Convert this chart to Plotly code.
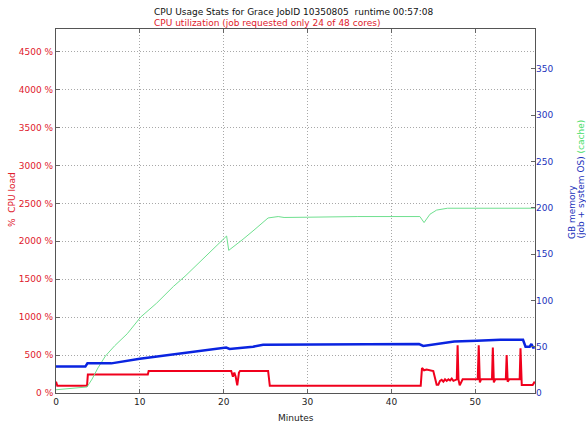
import plotly.graph_objects as go

# CPU load (% of one core) over time (minutes)
cpu_t = [0, 0.15, 3.7, 3.8, 10.95, 11.05, 20.9, 21.1, 21.27, 21.43, 21.62, 21.82, 21.95, 25.3, 25.5,
         43.5, 43.65, 43.9, 44.2, 44.5, 44.8, 45.0, 45.4, 45.6, 45.8, 46.0, 46.2, 46.4, 46.6, 46.8,
         47.0, 47.2, 47.4, 47.65, 47.8, 47.9, 48.0, 48.15, 48.5, 50.3, 50.42, 50.55, 50.7, 52.0,
         52.1, 52.22, 52.4, 53.65, 53.75, 53.87, 54.05, 55.3, 55.4, 55.55, 56.85, 57.1]
cpu_v = [150, 95, 95, 245, 245, 290, 290, 215, 270, 215, 100, 270, 290, 290, 95,
         95, 330, 300, 310, 300, 295, 290, 110, 110, 160, 175, 150, 180, 160, 180,
         165, 190, 160, 170, 180, 630, 180, 100, 180, 180, 630, 140, 180, 180,
         600, 140, 180, 180, 500, 150, 180, 180, 590, 105, 105, 150]

# memory used by job + system OS (GB)
mem_t = [0, 3.5, 3.75, 6.6, 10, 14, 17.2, 20.3, 20.7, 23.5, 24.7, 36, 36.3, 43.3, 43.8, 45,
         46.5, 47.5, 50.2, 53, 55.7, 56.0, 56.5, 56.7, 56.9, 57.1]
mem_v = [28.5, 28.5, 32, 32, 37, 41.5, 45, 49, 47.5, 50, 52, 52, 52.8, 52.8, 50.8, 52.5,
         54.5, 55.5, 56.5, 57.5, 57.5, 50, 50, 53, 49, 49]

# cache memory (GB)
cache_t = [0, 3.7, 4.3, 5.0, 5.9, 7, 8.5, 10.1, 12, 14, 15.5, 17.2, 19, 20.35, 20.6, 21.5,
           22.3, 23.5, 24.5, 25.3, 26.5, 27.2, 30, 36, 43.4, 43.9, 44.6, 45.4, 46.7, 57.1]
cache_v = [3.5, 6.5, 15, 27, 40, 51, 64, 82, 97, 115, 127, 142, 157, 169.5, 154, 160,
           166, 175, 183, 189, 190.5, 189.5, 189.8, 190.5, 190.5, 184, 193, 197.5, 199.5, 199.5]

x_ticks = [0, 10, 20, 30, 40, 50]
y_ticks = [0, 500, 1000, 1500, 2000, 2500, 3000, 3500, 4000, 4500]
y_ticklabels = [f"{v} %" for v in y_ticks]
y2_ticks = [0, 50, 100, 150, 200, 250, 300, 350]

FONT = "DejaVu Sans"
RED = "#f0001c"
BLUE = "#0a24e0"
GREEN = "#6fe08f"
RED_TXT = "#e0202c"
BLUE_TXT = "#2233bb"
GRID = "#a8a8a8"
GRIDDASH = "1px,2px"

fig = go.Figure()
fig.add_trace(go.Scatter(x=cache_t, y=cache_v, yaxis="y2", mode="lines",
                         line=dict(color=GREEN, width=1), name="cache"))
fig.add_trace(go.Scatter(x=mem_t, y=mem_v, yaxis="y2", mode="lines",
                         line=dict(color=BLUE, width=2.5), name="memory"))
fig.add_trace(go.Scatter(x=cpu_t, y=cpu_v, mode="lines",
                         line=dict(color=RED, width=2), name="cpu"))

fig.update_layout(
    width=586, height=424,
    margin=dict(l=56, r=51, t=29, b=31),
    paper_bgcolor="white", plot_bgcolor="white",
    showlegend=False,
    font=dict(family=FONT, size=9, color="#222"),
    xaxis=dict(range=[0, 57.13], tickvals=x_ticks, ticks="inside", ticklen=4,
               tickcolor="#666", showline=True, linecolor="#555", linewidth=1,
               mirror="ticks", showgrid=True, gridcolor=GRID, griddash=GRIDDASH,
               gridwidth=1, zeroline=False, tickfont=dict(size=9, color="#222")),
    yaxis=dict(range=[0, 4800], tickvals=y_ticks, ticktext=y_ticklabels, ticks="inside",
               ticklen=4, tickcolor="#666", showline=True, linecolor="#555", linewidth=1,
               mirror=True, showgrid=True, gridcolor=GRID, griddash=GRIDDASH, gridwidth=1,
               zeroline=False, tickfont=dict(size=9, color=RED_TXT)),
    yaxis2=dict(range=[0, 393], tickvals=y2_ticks, overlaying="y", side="right",
                ticks="inside", ticklen=4, tickcolor="#666", showline=False,
                showgrid=False, zeroline=False, tickfont=dict(size=9, color=BLUE_TXT)),
)

ann = [
    dict(text="CPU Usage Stats for Grace JobID 10350805  runtime 00:57:08", x=(152-56)/479,
         y=(393-12.5)/364, xanchor="left", yanchor="middle", font=dict(size=9, color="#111")),
    dict(text="CPU utilization (job requested only 24 of 48 cores)", x=(152-56)/479,
         y=(393-22.5)/364, xanchor="left", yanchor="middle", font=dict(size=9, color=RED_TXT)),
    dict(text="Minutes", x=0.5, y=(393-418)/364, xanchor="center", yanchor="middle",
         font=dict(size=9, color="#222")),
    dict(text="%  CPU load", x=(12-56)/479, y=(393-200)/364, textangle=-90,
         xanchor="center", yanchor="middle", font=dict(size=9, color=RED_TXT)),
    dict(text="GB memory", x=(572-56)/479, y=(393-212)/364, textangle=-90,
         xanchor="center", yanchor="middle", font=dict(size=9, color=BLUE_TXT)),
    dict(text="(job + system OS)", x=(580.5-56)/479, y=(393-198)/364, textangle=-90,
         xanchor="center", yanchor="middle", font=dict(size=9, color=BLUE_TXT)),
    dict(text="(cache)", x=(580.5-56)/479, y=(393-137)/364, textangle=-90,
         xanchor="center", yanchor="middle", font=dict(size=9, color="#44dd66")),
]
for a in ann:
    a.update(xref="paper", yref="paper", showarrow=False)
fig.update_layout(annotations=ann)

fig.write_html("out.html", config={"displayModeBar": False},
               post_script="document.body.style.margin='0';document.body.style.padding='0';")
